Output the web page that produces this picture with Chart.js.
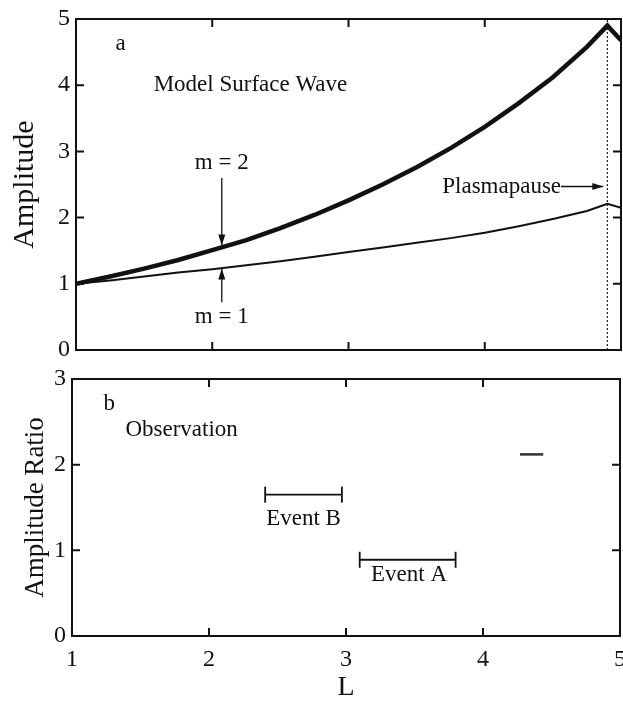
<!DOCTYPE html>
<html>
<head>
<meta charset="utf-8">
<script src="https://cdn.jsdelivr.net/npm/chart.js@4.4.1/dist/chart.umd.min.js"></script>
<style>
  body { margin: 0; background: #fff; overflow: hidden; }
  #wrap { position: relative; width: 623px; height: 708px; overflow: hidden; }
  canvas { position: absolute; left: 0; }
</style>
</head>
<body>
<div id="wrap">
  <canvas id="topChart" width="623" height="360" style="top:0"></canvas>
  <!-- a bit wider than the page so the last x label can sit on the right edge -->
  <canvas id="bottomChart" width="640" height="348" style="top:360px"></canvas>
</div>
<script>
// Panel a: model amplitudes vs L
const L = [1, 1.25, 1.5, 1.75, 2, 2.25, 2.5, 2.75, 3, 3.25, 3.5, 3.75, 4, 4.25, 4.5, 4.75, 4.9, 5];
const ampM2 = [1.0, 1.11, 1.23, 1.36, 1.51, 1.66, 1.84, 2.04, 2.26, 2.50, 2.76, 3.05, 3.37, 3.73, 4.12, 4.58, 4.9, 4.68];
const ampM1 = [1.0, 1.05, 1.11, 1.17, 1.22, 1.28, 1.34, 1.41, 1.48, 1.55, 1.62, 1.69, 1.77, 1.87, 1.98, 2.10, 2.21, 2.15];
const plasmapauseL = 4.9;

// Panel b: observed amplitude ratio ranges
const eventB = { from: 2.41, to: 2.97, ratio: 1.65 };
const eventA = { from: 3.10, to: 3.80, ratio: 0.89 };
const smudge = { from: 4.27, to: 4.44, ratio: 2.12 };

const xTicks = [1, 2, 3, 4, 5];
const topTicks = [0, 1, 2, 3, 4, 5];
const bottomTicks = [0, 1, 2, 3];

const serif = "'Liberation Serif', 'DejaVu Serif', serif";

// draws the box and inward tick marks on all four sides
const framePlugin = {
  id: "frame",
  afterDatasetsDraw(chart) {
    const { ctx, chartArea: a, scales } = chart;
    ctx.save();
    ctx.strokeStyle = "#111";
    ctx.lineWidth = 2;
    ctx.strokeRect(a.left, a.top, a.right - a.left, a.bottom - a.top);
    const len = 8;
    ctx.beginPath();
    scales.x.ticks.forEach((t) => {
      const px = scales.x.getPixelForValue(t.value);
      ctx.moveTo(px, a.bottom); ctx.lineTo(px, a.bottom - len);
      ctx.moveTo(px, a.top); ctx.lineTo(px, a.top + len);
    });
    scales.y.ticks.forEach((t) => {
      const py = scales.y.getPixelForValue(t.value);
      ctx.moveTo(a.left, py); ctx.lineTo(a.left + len, py);
      ctx.moveTo(a.right, py); ctx.lineTo(a.right - len, py);
    });
    ctx.stroke();
    ctx.restore();
  },
};

// text and arrows placed in data coordinates
const notesPlugin = {
  id: "notes",
  afterDatasetsDraw(chart, args, opts) {
    const { ctx, scales } = chart;
    const X = (v) => scales.x.getPixelForValue(v);
    const Y = (v) => scales.y.getPixelForValue(v);
    ctx.save();
    ctx.fillStyle = "#111";
    ctx.strokeStyle = "#111";
    (opts.texts || []).forEach((t) => {
      ctx.font = (t.size || 23) + "px " + serif;
      ctx.textAlign = t.align || "left";
      ctx.textBaseline = "middle";
      ctx.fillText(t.text, X(t.x), Y(t.y));
    });
    (opts.arrows || []).forEach((ar) => {
      const x1 = X(ar.x1), y1 = Y(ar.y1), x2 = X(ar.x2), y2 = Y(ar.y2);
      ctx.lineWidth = 1.3;
      ctx.beginPath();
      ctx.moveTo(x1, y1); ctx.lineTo(x2, y2);
      ctx.stroke();
      const ang = Math.atan2(y2 - y1, x2 - x1);
      const h = 11, w = 3.5;
      ctx.beginPath();
      ctx.moveTo(x2, y2);
      ctx.lineTo(x2 - h * Math.cos(ang) + w * Math.sin(ang), y2 - h * Math.sin(ang) - w * Math.cos(ang));
      ctx.lineTo(x2 - h * Math.cos(ang) - w * Math.sin(ang), y2 - h * Math.sin(ang) + w * Math.cos(ang));
      ctx.closePath();
      ctx.fill();
    });
    ctx.restore();
  },
};

const tickFont = { family: serif, size: 24 };

const xScale = (showLabels, height) => ({
  type: "linear",
  min: 1, max: 5,
  afterBuildTicks: (s) => { s.ticks = xTicks.map((v) => ({ value: v })); },
  afterFit: (s) => { s.height = height; },
  grid: { display: false, drawTicks: false },
  border: { display: false },
  ticks: { display: showLabels, color: "#111", font: tickFont, padding: 9, maxRotation: 0 },
  title: {
    display: showLabels, text: "L", color: "#111",
    font: { family: serif, size: 28 }, padding: { top: 8 },
  },
});

const yScale = (max, ticks, width, title, titleSize, titlePad) => ({
  type: "linear",
  min: 0, max: max,
  afterBuildTicks: (s) => { s.ticks = ticks.map((v) => ({ value: v })); },
  afterFit: (s) => { s.width = width; s.paddingTop = 0; s.paddingBottom = 0; },
  grid: { display: false, drawTicks: false },
  border: { display: false },
  ticks: { color: "#111", font: tickFont, padding: 6 },
  title: { display: true, text: title, color: "#111", font: { family: serif, size: titleSize }, padding: { top: titlePad, bottom: 0 } },
});

const pts = (xs, ys) => xs.map((x, i) => ({ x: x, y: ys[i] }));
const bar = (e) => [{ x: e.from, y: e.ratio }, { x: e.to, y: e.ratio }];

const common = {
  responsive: false,
  animation: false,
  events: [],
  plugins: { legend: { display: false }, tooltip: { enabled: false } },
};

new Chart(document.getElementById("topChart"), {
  type: "line",
  data: {
    datasets: [
      { data: pts(L, ampM2), borderColor: "#111", borderWidth: 4.5, pointRadius: 0, tension: 0 },
      { data: pts(L, ampM1), borderColor: "#111", borderWidth: 2, pointRadius: 0, tension: 0 },
      { data: [{ x: plasmapauseL, y: 0 }, { x: plasmapauseL, y: 5 }], borderColor: "#222", borderWidth: 1.2, borderDash: [2, 2], pointRadius: 0 },
    ],
  },
  options: {
    ...common,
    layout: { padding: { top: 19, right: 2, left: 0, bottom: 0 } },
    scales: {
      x: xScale(false, 10),
      y: yScale(5, topTicks, 76, "Amplitude", 30, 7),
    },
    plugins: {
      ...common.plugins,
      notes: {
        texts: [
          { text: "a", x: 1.29, y: 4.62 },
          { text: "Model Surface Wave", x: 1.57, y: 4.0 },
          { text: "m = 2", x: 2.07, y: 2.82, align: "center" },
          { text: "m = 1", x: 2.07, y: 0.5, align: "center" },
          { text: "Plasmapause", x: 4.56, y: 2.47, align: "right" },
        ],
        arrows: [
          { x1: 2.07, y1: 2.6, x2: 2.07, y2: 1.58 },
          { x1: 2.07, y1: 0.72, x2: 2.07, y2: 1.23 },
          { x1: 4.56, y1: 2.47, x2: 4.87, y2: 2.47 },
        ],
      },
    },
  },
  plugins: [framePlugin, notesPlugin],
});

new Chart(document.getElementById("bottomChart"), {
  type: "line",
  data: {
    datasets: [
      { data: bar(eventB), borderColor: "#111", borderWidth: 1.8, pointStyle: "line", pointRotation: 90, pointRadius: 8, pointBorderWidth: 1.8, pointBorderColor: "#111" },
      { data: bar(eventA), borderColor: "#111", borderWidth: 1.8, pointStyle: "line", pointRotation: 90, pointRadius: 8, pointBorderWidth: 1.8, pointBorderColor: "#111" },
      { data: bar(smudge), borderColor: "#333", borderWidth: 2.5, pointRadius: 0 },
    ],
  },
  options: {
    ...common,
    layout: { padding: { top: 19, right: 20, left: 0, bottom: 0 } },
    scales: {
      x: xScale(true, 72),
      y: yScale(3, bottomTicks, 72, "Amplitude Ratio", 27, 20),
    },
    plugins: {
      ...common.plugins,
      notes: {
        texts: [
          { text: "b", x: 1.23, y: 2.71 },
          { text: "Observation", x: 1.39, y: 2.40 },
          { text: "Event B", x: 2.69, y: 1.37, align: "center" },
          { text: "Event A", x: 3.46, y: 0.71, align: "center" },
        ],
      },
    },
  },
  plugins: [framePlugin, notesPlugin],
});
</script>
</body>
</html>
